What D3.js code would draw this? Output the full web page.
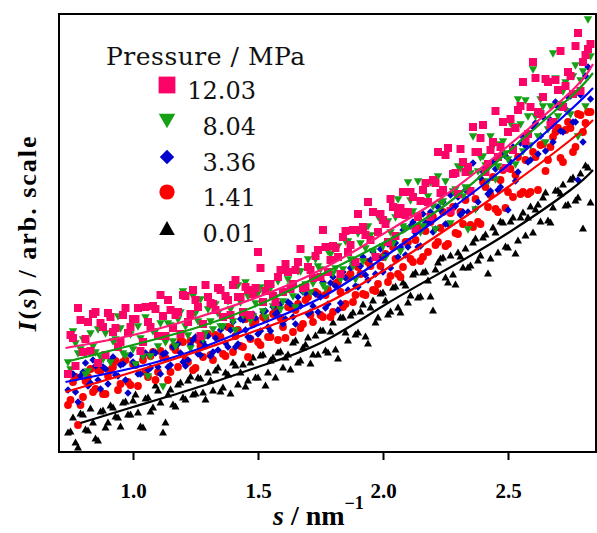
<!DOCTYPE html>
<html><head><meta charset="utf-8">
<script src="https://cdn.jsdelivr.net/npm/d3@7"></script>
<style>body{margin:0;background:#fff}svg{display:block}</style>
</head><body>
<svg id="chart" width="597" height="533"></svg>
<script>
// scattering vector s / nm^-1 : two interleaved grids
const sValues = [
0.74,0.76,0.78,0.80,0.82,0.84,0.86,0.88,0.90,0.92,
0.94,0.96,0.98,1.00,1.02,1.04,1.06,1.08,1.10,1.12,
1.14,1.16,1.18,1.20,1.22,1.24,1.26,1.28,1.30,1.32,
1.34,1.36,1.38,1.40,1.42,1.44,1.46,1.48,1.50,1.52,
1.54,1.56,1.58,1.60,1.62,1.64,1.66,1.68,1.70,1.72,
1.74,1.76,1.78,1.80,1.82,1.84,1.86,1.88,1.90,1.92,
1.94,1.96,1.98,2.00,2.02,2.04,2.06,2.08,2.10,2.12,
2.14,2.16,2.18,2.20,2.22,2.24,2.26,2.28,2.30,2.32,
2.34,2.36,2.38,2.40,2.42,2.44,2.46,2.48,2.50,2.52,
2.54,2.56,2.58,2.60,2.62,2.64,2.66,2.68,2.70,2.72,
2.74,2.76,2.78,2.80,2.82];
const sValuesB = [
0.75,0.77,0.79,0.81,0.83,0.85,0.87,0.89,0.91,0.93,
0.95,0.97,0.99,1.01,1.03,1.05,1.07,1.09,1.11,1.13,
1.15,1.17,1.19,1.21,1.23,1.25,1.27,1.29,1.31,1.33,
1.35,1.37,1.39,1.41,1.43,1.45,1.47,1.49,1.51,1.53,
1.55,1.57,1.59,1.61,1.63,1.65,1.67,1.69,1.71,1.73,
1.75,1.77,1.79,1.81,1.83,1.85,1.87,1.89,1.91,1.93,
1.95,1.97,1.99,2.01,2.03,2.05,2.07,2.09,2.11,2.13,
2.15,2.17,2.19,2.21,2.23,2.25,2.27,2.29,2.31,2.33,
2.35,2.37,2.39,2.41,2.43,2.45,2.47,2.49,2.51,2.53,
2.55,2.57,2.59,2.61,2.63,2.65,2.67,2.69,2.71,2.73,
2.75,2.77,2.79,2.81,2.83];

// I(s), arbitrary units — 12.03 MPa
const I_1203 = [
0.78,1.14,1.44,1.00,1.30,1.38,0.89,1.25,1.39,1.20,
1.05,1.37,1.19,1.33,1.44,1.10,1.30,1.46,1.16,1.36,
1.52,1.24,1.40,1.57,1.30,1.62,1.45,1.28,1.55,1.48,
1.64,1.35,1.52,1.67,1.55,1.40,1.62,1.58,2.00,1.50,
1.68,1.56,1.75,1.60,1.80,1.68,1.90,1.64,1.85,1.74,
2.02,2.22,1.80,2.06,1.95,2.15,2.00,2.22,2.38,2.25,
2.50,2.40,2.20,2.32,2.10,2.45,2.38,2.60,2.40,2.55,
2.35,2.62,2.50,2.72,3.00,2.62,3.04,2.78,2.58,2.90,
2.85,3.25,3.00,3.27,2.88,3.10,2.95,3.30,3.20,3.02,
3.42,3.70,3.18,3.90,3.40,3.55,3.70,3.30,3.62,3.45,
3.80,3.58,4.19,3.90,4.03];
const I_1203b = [
1.17,0.86,1.32,1.13,1.01,1.40,1.29,0.97,1.35,1.24,
1.10,1.44,1.25,1.33,1.01,1.45,1.25,1.43,1.57,1.16,
1.42,1.37,1.18,1.56,1.38,1.52,1.16,1.67,1.49,1.42,
1.62,1.56,1.37,1.72,1.55,1.65,1.37,1.64,1.84,1.61,
1.68,1.50,1.82,1.88,1.63,1.82,2.03,1.65,1.82,1.96,
1.75,2.05,1.92,2.04,1.78,2.21,2.07,1.90,2.22,2.17,
2.12,1.95,2.38,2.28,2.53,2.16,2.44,2.37,2.60,2.23,
2.51,2.69,2.35,2.69,2.59,2.97,2.41,2.79,3.03,2.80,
2.61,3.00,3.14,2.80,3.02,3.41,3.05,2.84,3.33,3.24,
3.46,3.11,3.45,3.74,3.38,3.73,3.27,3.72,4.01,3.66,
3.76,4.06,3.61,3.97,4.08];
// 8.04 MPa
const I_804 = [
0.89,1.20,0.98,1.12,0.80,1.05,1.22,0.92,1.35,1.10,
1.35,0.98,1.18,1.02,1.25,0.95,0.75,1.20,1.05,0.65,
1.28,1.10,1.32,1.60,1.16,1.55,1.30,1.12,1.42,1.22,
1.38,1.25,1.50,1.30,1.66,1.36,1.55,1.35,1.58,1.40,
1.62,1.45,1.70,1.50,1.72,1.55,1.80,1.60,1.92,1.68,
1.85,1.66,2.00,1.78,2.05,1.82,2.10,1.85,2.18,1.90,
2.25,2.00,2.35,2.05,2.30,2.08,2.52,2.25,2.69,2.40,
2.70,2.25,2.55,2.45,2.75,2.50,3.04,2.60,2.85,2.55,
2.22,3.15,2.80,2.95,2.70,3.05,2.85,3.10,2.92,3.25,
3.52,3.00,3.35,3.82,3.15,3.45,3.22,3.98,3.35,3.60,
3.40,3.75,3.15,3.80,4.32];
const I_804b = [
0.82,1.08,1.02,0.77,1.18,0.99,0.94,1.18,0.89,1.12,
1.23,0.96,1.17,0.87,1.13,1.34,0.95,1.20,1.28,1.09,
1.26,1.05,1.39,1.25,1.03,1.38,1.52,1.18,1.30,1.47,
1.25,1.54,1.42,1.21,1.49,1.69,1.31,1.48,1.64,1.34,
1.63,1.54,1.42,1.80,1.65,1.44,1.80,1.67,1.59,1.92,
1.82,1.63,1.97,1.83,1.72,2.10,1.92,1.72,2.08,2.03,
2.16,1.95,2.31,1.94,2.19,2.34,2.00,2.23,2.51,2.36,
2.19,2.50,2.69,2.22,2.49,2.70,2.28,2.62,2.83,2.64,
2.78,2.42,2.94,2.86,3.15,2.72,3.07,2.98,3.28,2.87,
3.27,3.51,3.06,3.35,3.52,3.09,3.45,3.73,3.47,3.69,
3.37,3.86,3.71,3.45,3.95];
// 3.36 MPa
const I_336 = [
0.62,0.78,0.50,0.80,0.66,0.92,0.72,0.85,0.68,0.95,
0.76,0.88,0.59,0.90,0.78,0.96,0.82,1.00,0.85,0.98,
0.85,1.05,1.08,0.90,0.92,1.12,0.98,1.10,1.16,1.00,
1.02,1.25,1.05,1.30,1.08,1.32,1.15,1.38,1.18,1.40,
1.25,1.45,1.40,1.28,1.50,1.35,1.55,1.60,1.38,1.46,
1.40,1.70,1.48,1.75,1.42,1.80,1.62,1.90,1.65,1.95,
1.72,2.00,1.95,1.80,2.08,2.12,1.95,2.22,2.05,2.30,
2.05,2.38,2.30,2.20,2.45,2.50,2.28,2.60,2.55,2.40,
2.40,2.89,2.50,2.80,2.58,2.90,2.62,3.00,2.42,3.05,
2.80,3.15,2.90,3.25,2.98,3.35,3.72,3.10,3.45,3.20,
3.55,3.30,2.72,3.10,3.85];
const I_336b = [
0.79,0.60,0.76,0.89,0.69,0.86,0.63,0.83,0.91,0.77,
0.87,0.72,0.97,0.87,0.78,0.99,0.84,0.99,0.78,0.99,
0.87,1.06,0.99,0.86,1.07,1.15,0.97,1.06,0.96,1.14,
1.22,1.09,1.22,1.05,1.33,1.22,1.14,1.34,1.21,1.41,
1.21,1.38,1.48,1.33,1.48,1.28,1.46,1.59,1.40,1.58,
1.55,1.44,1.69,1.66,1.49,1.74,1.84,1.66,1.86,1.77,
1.92,1.78,2.03,1.97,1.84,2.09,2.05,1.97,2.26,2.19,
2.06,2.29,2.40,2.23,2.42,2.28,2.57,2.46,2.37,2.62,
2.60,2.43,2.74,2.85,2.61,2.83,2.65,2.96,2.90,2.71,
3.09,3.06,2.92,3.29,3.16,3.01,3.32,3.50,3.21,3.43,
3.56,3.30,3.57,3.76,3.53];
// 1.41 MPa
const I_141 = [
0.47,0.70,0.27,0.55,0.75,0.60,0.82,0.58,0.76,0.85,
0.62,0.90,0.70,0.88,0.66,0.92,0.75,1.00,0.80,0.95,
0.72,1.05,0.85,1.10,0.90,0.82,1.12,0.95,1.18,0.92,
1.15,0.98,1.25,1.00,1.22,1.05,0.95,1.28,1.10,1.35,
1.15,1.38,1.12,1.25,1.45,1.20,1.48,1.28,1.55,1.30,
1.58,1.35,1.62,1.40,1.70,1.45,1.75,1.50,1.85,1.58,
1.90,1.62,1.68,1.95,1.70,2.05,1.78,1.85,2.10,1.90,
2.25,1.95,2.00,2.35,2.10,2.40,2.08,2.45,2.18,2.28,
2.62,2.25,2.30,2.70,2.45,2.75,2.40,2.82,2.60,2.55,
2.95,2.60,2.58,3.00,2.62,3.08,2.92,3.15,3.24,2.90,
3.30,3.00,3.38,3.20,3.40];
const I_141b = [
0.52,0.75,0.47,0.71,0.83,0.63,0.81,0.58,0.82,0.91,
0.68,0.92,0.67,0.87,1.01,0.80,0.96,0.72,1.01,0.94,
0.80,1.02,1.11,0.92,1.11,0.84,1.06,1.17,0.97,1.17,
1.15,0.96,1.24,1.16,1.06,1.33,1.13,1.31,1.07,1.33,
1.15,1.43,1.34,1.14,1.44,1.42,1.24,1.52,1.37,1.60,
1.37,1.57,1.35,1.68,1.60,1.48,1.78,1.57,1.78,1.57,
1.86,1.61,1.86,1.98,1.76,1.93,1.75,2.10,1.93,2.12,
1.91,2.21,2.30,2.07,2.24,2.06,2.39,2.19,2.40,2.52,
2.27,2.53,2.28,2.65,2.57,2.43,2.72,2.44,2.83,2.77,
2.58,2.92,2.60,2.95,3.07,2.81,3.05,3.20,2.94,3.22,
3.24,3.05,3.37,3.29,3.40];
// 0.01 MPa
const I_001 = [
0.20,0.35,0.05,0.38,0.22,0.30,0.12,0.42,0.30,0.45,
0.35,0.50,0.38,0.52,0.40,0.25,0.55,0.45,0.62,0.20,
0.58,0.48,0.68,0.55,0.72,0.58,0.75,0.60,0.80,0.62,
0.85,0.65,0.78,0.90,0.68,0.88,0.72,0.95,0.75,0.98,
0.80,0.95,1.00,0.85,0.98,1.10,0.90,1.05,1.15,0.98,
0.98,1.22,1.00,1.30,0.94,1.35,1.12,1.40,1.20,1.48,
1.09,1.52,1.35,1.60,1.38,1.65,1.45,1.70,1.50,1.78,
1.55,1.80,1.72,1.42,1.90,1.95,1.70,1.78,2.00,1.85,
1.85,2.10,1.92,2.15,1.79,2.25,2.00,2.30,2.05,2.35,
2.12,2.40,2.35,2.20,2.48,2.55,2.32,2.45,2.62,2.68,
2.48,2.75,2.55,2.24,2.85];
const I_001b = [
0.21,0.10,0.39,0.23,0.44,0.14,0.41,0.25,0.47,0.36,
0.26,0.51,0.38,0.58,0.26,0.54,0.41,0.67,0.50,0.30,
0.63,0.46,0.70,0.53,0.76,0.59,0.74,0.53,0.72,0.82,
0.61,0.80,0.59,0.87,0.80,0.66,0.90,0.75,0.97,0.67,
0.92,0.75,1.01,0.95,0.83,1.12,0.92,1.08,0.89,1.17,
1.22,1.02,1.21,1.03,1.35,1.20,1.37,1.18,1.41,1.16,
1.45,1.30,1.59,1.52,1.41,1.66,1.40,1.67,1.57,1.80,
1.56,1.81,1.56,1.83,1.94,1.75,1.97,1.68,1.96,2.04,
1.87,2.14,1.97,2.18,1.94,2.20,2.31,2.06,2.31,1.99,
2.35,2.17,2.46,2.43,2.31,2.60,2.30,2.62,2.59,2.47,
2.73,2.52,2.79,2.87,2.50];

// fitted curves
const fitS = [0.73,1.00,1.25,1.50,1.75,2.00,2.25,2.50,2.75,2.84];
const fitS_001 = [0.79,1.00,1.25,1.50,1.75,2.00,2.25,2.50,2.75,2.84];
const fit_1203 = [1.04,1.17,1.34,1.55,1.82,2.18,2.57,3.06,3.60,3.88];
const fit_804  = [0.90,1.07,1.24,1.47,1.77,2.09,2.47,3.00,3.55,3.79];
const fit_336  = [0.70,0.84,1.02,1.27,1.54,1.94,2.39,2.87,3.42,3.64];
const fit_141  = [0.60,0.80,1.00,1.22,1.46,1.81,2.22,2.65,3.12,3.32];
const fit_001  = [0.29,0.45,0.64,0.85,1.09,1.46,1.82,2.19,2.62,2.82];

const labels = ["12.03","8.04","3.36","1.41","0.01"];
const xTicks = [1.0,1.5,2.0,2.5];

const series = [
  {label:labels[0], a:I_1203, b:I_1203b, fs:fitS,     fit:fit_1203, color:"#fc0467", line:"#ff1a75", shape:"square"},
  {label:labels[1], a:I_804,  b:I_804b,  fs:fitS,     fit:fit_804,  color:"#16a016", line:"#0f9a0f", shape:"tridown"},
  {label:labels[2], a:I_336,  b:I_336b,  fs:fitS,     fit:fit_336,  color:"#0000cc", line:"#0000ff", shape:"diamond"},
  {label:labels[3], a:I_141,  b:I_141b,  fs:fitS,     fit:fit_141,  color:"#ff0000", line:"#ff0000", shape:"circle"},
  {label:labels[4], a:I_001,  b:I_001b,  fs:fitS_001, fit:fit_001,  color:"#000000", line:"#000000", shape:"triup"}
];

const svg = d3.select("#chart");
const L=59, T=14, R=596, B=452;
const x = d3.scaleLinear().domain([0.704,2.852]).range([L,R]);
const y = d3.scaleLinear().domain([0,4.38]).range([B,T]);

function shapePath(type, k){
  if(type==="square"){const a=8*k;return `M${-a/2},${-a/2}h${a}v${a}h${-a}Z`;}
  if(type==="tridown"){const w=8.5*k,h=7.5*k;return `M${-w/2},${-h/2}L${w/2},${-h/2}L0,${h/2}Z`;}
  if(type==="triup"){const w=8*k,h=7.2*k;return `M${-w/2},${h/2}L${w/2},${h/2}L0,${-h/2}Z`;}
  if(type==="diamond"){const w=7.4*k,h=7.4*k;return `M0,${-h/2}L${w/2},0L0,${h/2}L${-w/2},0Z`;}
  const r=3.9*k; return `M${-r},0A${r},${r} 0 1,0 ${r},0A${r},${r} 0 1,0 ${-r},0Z`;
}

// points: lowest-pressure set at the back, 12.03 MPa on top
[4,3,2,1,0].forEach(i=>{
  const s = series[i];
  const pts = s.a.map((v,j)=>[sValues[j],v]).concat(s.b.map((v,j)=>[sValuesB[j],v]));
  svg.append("g").selectAll("path").data(pts).join("path")
    .attr("d", shapePath(s.shape,1))
    .attr("transform", d=>`translate(${x(d[0])},${y(d[1])})`)
    .attr("fill", s.color);
});

// fitted lines
const line = d3.line().x(d=>x(d[0])).y(d=>y(d[1])).curve(d3.curveNatural);
series.forEach(s=>{
  svg.append("path").datum(s.fs.map((v,j)=>[v,s.fit[j]]))
    .attr("d", line).attr("fill","none").attr("stroke", s.line).attr("stroke-width",2.2);
});

// frame
svg.append("rect").attr("x",L).attr("y",T).attr("width",R-L).attr("height",B-T)
  .attr("fill","none").attr("stroke","#000").attr("stroke-width",2);

// x axis
const ax = svg.append("g").attr("transform",`translate(0,${B})`)
  .call(d3.axisBottom(x).tickValues(xTicks).tickSize(8).tickPadding(23).tickFormat(d3.format(".1f")));
ax.select(".domain").remove();
ax.selectAll(".tick line").attr("stroke","#000").attr("stroke-width",2);
ax.selectAll(".tick text").attr("font-family","'Liberation Serif', serif").attr("font-weight","bold")
  .attr("font-size",21).attr("fill","#000");

// x title
const xt = svg.append("text").attr("x",273).attr("y",525)
  .attr("font-family","'Liberation Serif', serif").attr("font-weight","bold").attr("font-size",28).attr("fill","#000");
xt.append("tspan").attr("font-style","italic").text("s");
xt.append("tspan").text(" / nm");
xt.append("tspan").attr("font-size",18).attr("dy",-16).text("\u22121");

// y title
const yt = svg.append("text").attr("transform",`translate(36,${(T+B)/2}) rotate(-90)`)
  .attr("text-anchor","middle").attr("font-family","'Liberation Serif', serif").attr("font-weight","bold")
  .attr("font-size",26).attr("letter-spacing",2).attr("fill","#000");
yt.append("tspan").attr("font-style","italic").text("I");
yt.append("tspan").text("(");
yt.append("tspan").attr("font-style","italic").text("s");
yt.append("tspan").text(") / arb. scale");

// legend
svg.append("text").attr("x",106).attr("y",65).attr("font-family","'DejaVu Serif', serif")
  .attr("font-size",25).attr("letter-spacing",0.5).attr("fill","#111").text("Pressure / MPa");
const legY = [85,121,157,192,228];
series.forEach((s,i)=>{
  svg.append("path").attr("d",shapePath(s.shape, s.shape==="square"?2.1:1.95))
    .attr("transform",`translate(167,${legY[i]})`).attr("fill",s.color);
  svg.append("text").attr("x",256).attr("y",legY[i]+14).attr("text-anchor","end")
    .attr("font-family","'DejaVu Serif', serif").attr("font-size",24).attr("fill","#111").text(s.label);
});
</script>
</body></html>
